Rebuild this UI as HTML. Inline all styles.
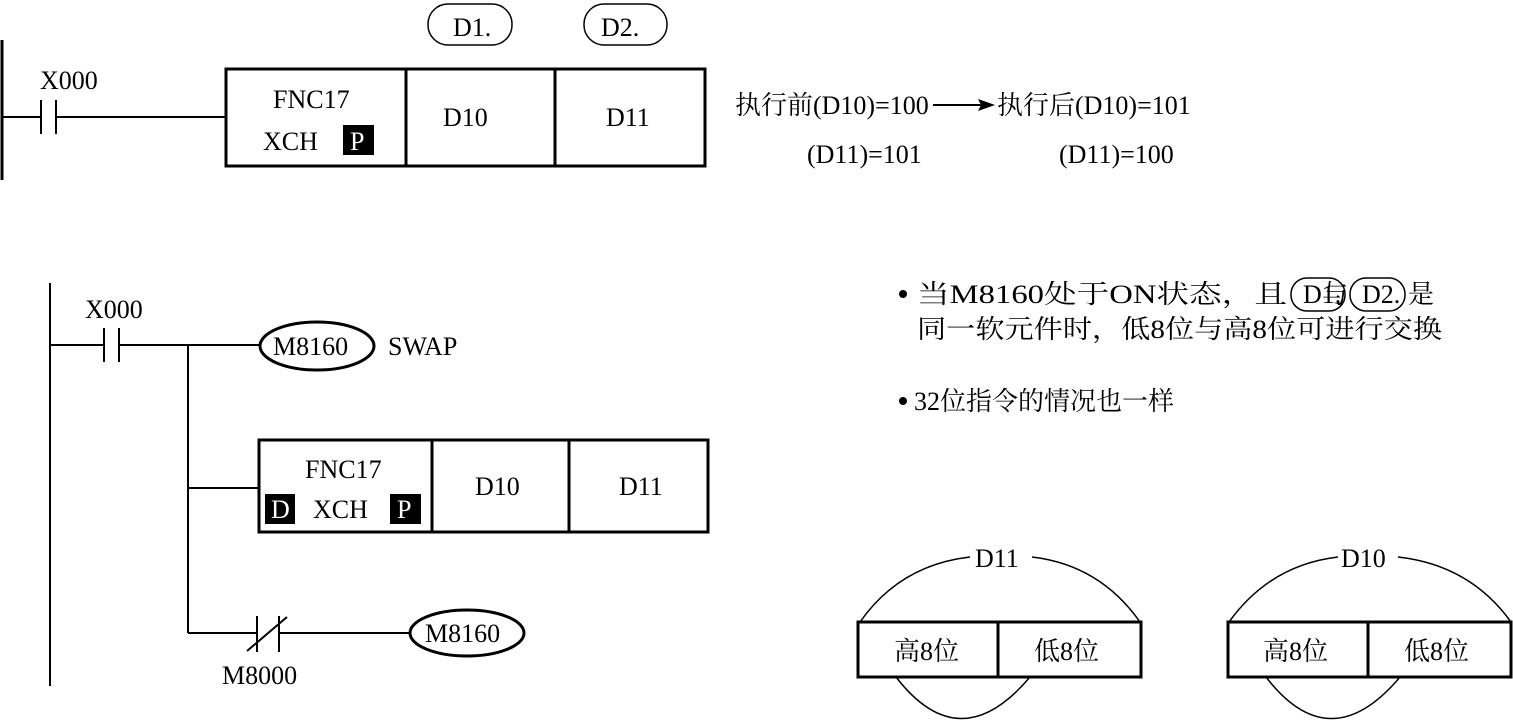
<!DOCTYPE html>
<html><head><meta charset="utf-8"><style>
html,body{margin:0;padding:0;background:#fff;width:1513px;height:727px;overflow:hidden}
svg{display:block}
text{font-family:"Liberation Serif","Noto Serif CJK SC","Noto Sans CJK SC",serif;fill:#000}
</style></head><body>
<svg width="1513" height="727" viewBox="0 0 1513 727" xmlns="http://www.w3.org/2000/svg">
<g stroke="#000" fill="none" stroke-width="2">
<!-- top ladder -->
<line x1="2" y1="40" x2="2" y2="180" stroke-width="3"/>
<line x1="2" y1="117" x2="41" y2="117"/>
<line x1="41" y1="100" x2="41" y2="134"/>
<line x1="56" y1="100" x2="56" y2="134"/>
<line x1="56" y1="117" x2="225" y2="117"/>
<rect x="226" y="69" width="479" height="97" stroke-width="3"/>
<line x1="406" y1="69" x2="406" y2="166" stroke-width="3"/>
<line x1="555" y1="69" x2="555" y2="166" stroke-width="3"/>
<rect x="428" y="4" width="84" height="41" rx="20" stroke-width="1.5"/>
<rect x="584" y="4" width="83" height="41" rx="20" stroke-width="1.5"/>
<!-- arrow -->
<line x1="933" y1="105" x2="985" y2="105"/>
<!-- bottom ladder -->
<line x1="50" y1="283" x2="50" y2="686" stroke-width="2"/>
<line x1="50" y1="345" x2="104" y2="345"/>
<line x1="104" y1="328" x2="104" y2="362"/>
<line x1="119" y1="328" x2="119" y2="362"/>
<line x1="119" y1="345" x2="260" y2="345"/>
<line x1="188" y1="345" x2="188" y2="633"/>
<ellipse cx="317" cy="346" rx="57" ry="24" stroke-width="3"/>
<line x1="188" y1="488" x2="258" y2="488"/>
<rect x="259" y="440" width="449" height="92" stroke-width="3"/>
<line x1="432" y1="440" x2="432" y2="532" stroke-width="3"/>
<line x1="569" y1="440" x2="569" y2="532" stroke-width="3"/>
<line x1="188" y1="633" x2="257" y2="633"/>
<line x1="257" y1="616" x2="257" y2="652"/>
<line x1="279" y1="616" x2="279" y2="652"/>
<line x1="247" y1="651" x2="287" y2="617"/>
<line x1="279" y1="633" x2="410" y2="633"/>
<ellipse cx="467" cy="633" rx="57" ry="23" stroke-width="3"/>
<!-- inline ovals in text -->
<rect x="1291" y="278" width="54" height="33" rx="16" stroke-width="1.5"/>
<rect x="1350" y="278" width="55" height="33" rx="16" stroke-width="1.5"/>
<!-- bottom right boxes -->
<rect x="858" y="622" width="283" height="55" stroke-width="3"/>
<line x1="998" y1="622" x2="998" y2="677" stroke-width="3"/>
<path d="M860 622 Q 900 565 970 557" stroke-width="1.5"/>
<path d="M1032 557 Q 1100 565 1140 622" stroke-width="1.5"/>
<path d="M896 677 Q 960 760 1030 677" stroke-width="1.5"/>
<rect x="1228" y="622" width="283" height="55" stroke-width="3"/>
<line x1="1368" y1="622" x2="1368" y2="677" stroke-width="3"/>
<path d="M1229 622 Q 1270 565 1338 557" stroke-width="1.5"/>
<path d="M1398 557 Q 1470 565 1511 622" stroke-width="1.5"/>
<path d="M1266 677 Q 1330 760 1400 677" stroke-width="1.5"/>
</g>
<polygon points="995,105 978,99 981,105 978,111" fill="#000"/>
<rect x="343" y="125" width="31" height="30" fill="#000"/>
<rect x="265" y="494" width="30" height="30" fill="#000"/>
<rect x="390" y="494" width="31" height="30" fill="#000"/>
<circle cx="903" cy="294" r="4" fill="#000"/>
<circle cx="903" cy="401" r="4" fill="#000"/>
<g font-size="26">
<text x="40" y="89">X000</text>
<text x="273" y="108">FNC17</text>
<text x="263" y="150">XCH</text>
<text x="350" y="150" style="fill:#fff">P</text>
<text x="443" y="126">D10</text>
<text x="606" y="126">D11</text>
<text x="453" y="36">D1.</text>
<text x="601" y="36">D2.</text>
<text x="735" y="114">执行前(D10)=100</text>
<text x="997" y="114">执行后(D10)=101</text>
<text x="807" y="163">(D11)=101</text>
<text x="1059" y="163">(D11)=100</text>
<text x="85" y="318">X000</text>
<text x="273" y="355">M8160</text>
<text x="388" y="355">SWAP</text>
<text x="305" y="478">FNC17</text>
<text x="271" y="518" style="fill:#fff">D</text>
<text x="313" y="518">XCH</text>
<text x="397" y="518" style="fill:#fff">P</text>
<text x="475" y="495">D10</text>
<text x="619" y="495">D11</text>
<text x="425" y="642">M8160</text>
<text x="222" y="684">M8000</text>
<text x="917" y="303" textLength="370" lengthAdjust="spacingAndGlyphs">当M8160处于ON状态，且</text>
<text x="1303" y="303">D1.</text>
<text x="1348" y="303" text-anchor="end">与</text>
<text x="1362" y="303">D2.</text>
<text x="1408" y="303">是</text>
<text x="917" y="338" textLength="525" lengthAdjust="spacingAndGlyphs">同一软元件时，低8位与高8位可进行交换</text>
<text x="914" y="410">32位指令的情况也一样</text>
<text x="975" y="567">D11</text>
<text x="1341" y="567">D10</text>
<text x="894" y="660">高8位</text>
<text x="1034" y="660">低8位</text>
<text x="1263" y="660">高8位</text>
<text x="1404" y="660">低8位</text>
</g>
</svg>
</body></html>
